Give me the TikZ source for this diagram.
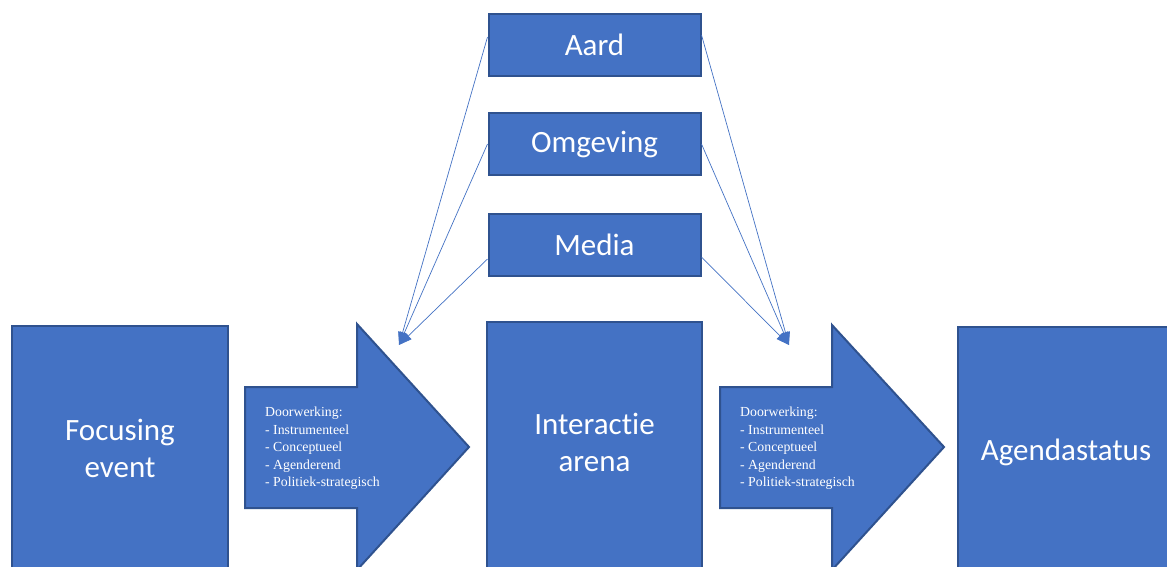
\documentclass[tikz,border=0pt]{standalone}
\usepackage{fontspec}
\setmainfont[RawFeature=-liga]{Carlito}
\newfontfamily\smallserif{Liberation Serif}
\usetikzlibrary{arrows.meta}
\definecolor{boxfill}{HTML}{4472C4}
\definecolor{boxline}{HTML}{2F528F}
\tikzset{
  blockbox/.style={draw=boxline, fill=boxfill, line width=2pt, inner sep=0pt},
  bigtext/.style={text=white, font=\fontsize{31}{37}\selectfont, align=center},
  smalltext/.style={text=white, font=\smallserif\fontsize{13.8}{17.5}\selectfont, align=left, anchor=north west, inner sep=0pt},
  fatarrow/.style={draw=boxline, fill=boxfill, line width=2pt, line join=miter},
  link/.style={draw=boxfill, line width=0.7pt, -{Triangle[length=13pt,width=9pt]}}
}
\begin{document}
\begin{tikzpicture}[x=1pt,y=-1pt]
\clip (0,0) rectangle (1167,566);
\fill[white] (0,0) rectangle (1167,566);
% top boxes
\node[blockbox, minimum width=212pt, minimum height=62pt, bigtext] (aard) at (594.5,45) {Aard};
\node[blockbox, minimum width=212pt, minimum height=62pt, bigtext] (omg) at (594.5,144) {Omgeving};
\node[blockbox, minimum width=212pt, minimum height=62pt, bigtext] (media) at (594.5,245) {Media};
% main boxes
\node[blockbox, minimum width=216pt, minimum height=244pt, bigtext] (fe) at (120,448) {Focusing\\event};
\node[blockbox, minimum width=215pt, minimum height=248pt, bigtext, text depth=8pt] (ia) at (594.5,446) {Interactie\\arena};
\node[blockbox, minimum width=216pt, minimum height=243pt, bigtext, text height=23pt, text depth=0pt] (ag) at (1066,448.5) {Agendastatus};
% fat arrows
\draw[fatarrow] (245,387) -- (357,387) -- (357,324) -- (469,447) -- (357,570) -- (357,508) -- (245,508) -- cycle;
\node[smalltext] (d1) at (265,407) {Doorwerking:\\- Instrumenteel\\- Conceptueel\\- Agenderend\\- Politiek-strategisch};
\draw[fatarrow] (720,387) -- (832,387) -- (832,325) -- (944,447) -- (832,570) -- (832,508) -- (720,508) -- cycle;
\node[smalltext] (d2) at (740,407) {Doorwerking:\\- Instrumenteel\\- Conceptueel\\- Agenderend\\- Politiek-strategisch};
% connectors
\coordinate (lt) at (399,345);
\coordinate (rt) at (789,345);
\draw[link] ([yshift=8pt]aard.west) -- (lt);
\draw[link] (omg.west) -- (lt);
\draw[link] ([yshift=-14pt]media.west) -- (lt);
\draw[link] ([yshift=10pt]aard.east) -- (rt);
\draw[link] (omg.east) -- (rt);
\draw[link] ([yshift=-12pt]media.east) -- (rt);
\end{tikzpicture}
\end{document}
